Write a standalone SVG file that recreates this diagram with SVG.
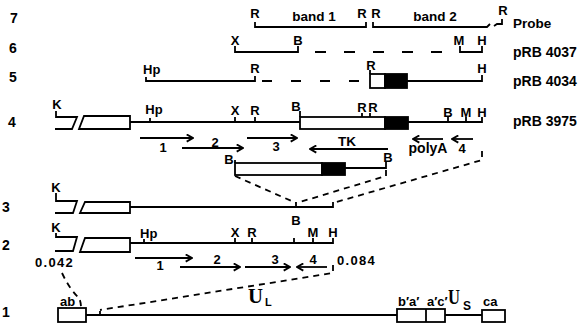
<svg xmlns="http://www.w3.org/2000/svg" width="580" height="325" viewBox="0 0 580 325">
<style>
text{font-family:"Liberation Sans",Arial,sans-serif;font-weight:bold;fill:#000}
.t{font-size:13px}
.n{font-size:14px;text-anchor:middle}
.m{text-anchor:middle}
.lab{font-size:14px}
.ln{fill:none;stroke:#000;stroke-width:1.8}
.dash{fill:none;stroke:#000;stroke-width:1.8;stroke-dasharray:6,5}
.dl{fill:none;stroke:#000;stroke-width:1.8;stroke-dasharray:11,18}
.box{fill:#fff;stroke:#000;stroke-width:1.8}
.blk{fill:#000;stroke:#000;stroke-width:1.8}
.ar{fill:none;stroke:#000;stroke-width:1.8;marker-end:url(#ah)}
.serif{font-family:"Liberation Serif","Times New Roman",serif;font-weight:bold;font-size:22px}
</style>
<defs>
<marker id="ah" viewBox="0 0 10 10" refX="9" refY="5" markerWidth="9" markerHeight="9" orient="auto" markerUnits="userSpaceOnUse">
<path d="M2,1 L9,5 L2,9" fill="none" stroke="#000" stroke-width="2"/>
</marker>
</defs>

<g id="rownums">
<text class="n" x="14" y="23">7</text>
<text class="n" x="13" y="53">6</text>
<text class="n" x="13" y="82">5</text>
<text class="n" x="12" y="127">4</text>
<text class="n" x="6" y="212">3</text>
<text class="n" x="6" y="250">2</text>
<text class="n" x="6" y="317">1</text>
</g>

<g id="row7">
<path class="ln" d="M255,22 V27 H366 V22"/>
<path class="ln" d="M373,22 V27 H487 L490,24 M494,26 L497,24 H502 V19"/>
<text class="t m" x="255" y="18">R</text>
<text class="t m" x="362" y="18">R</text>
<text class="t m" x="376" y="18">R</text>
<text class="t m" x="503" y="15">R</text>
<text class="t m" x="314" y="21" style="font-size:13.5px">band 1</text>
<text class="t m" x="435" y="21" style="font-size:13.5px">band 2</text>
<text class="t" x="513" y="28" style="font-size:13.5px">Probe</text>
</g>

<g id="row6">
<path class="ln" d="M235,46 V52 H298 V46"/>
<path class="dl" d="M315,52 H455"/>
<path class="ln" d="M460,46 V52 H482 V46"/>
<text class="t m" x="235" y="45">X</text>
<text class="t m" x="298" y="45">B</text>
<text class="t m" x="459" y="45">M</text>
<text class="t m" x="482" y="45">H</text>
<text class="lab" x="513" y="57">pRB 4037</text>
</g>

<g id="row5">
<path class="ln" d="M146,77 V81 H255 V76"/>
<path class="dl" d="M262,81 H365" style="stroke-dasharray:10,19"/>
<path class="ln" d="M370,70 V74"/>
<rect class="box" x="370" y="74" width="15" height="14"/>
<rect class="blk" x="385" y="74" width="22" height="14"/>
<path class="ln" d="M407,81 H482 V75"/>
<text class="t" x="143" y="74">Hp</text>
<text class="t m" x="255" y="73">R</text>
<text class="t m" x="371" y="70">R</text>
<text class="t m" x="482" y="73">H</text>
<text class="lab" x="513" y="86">pRB 4034</text>
</g>

<g id="row4">
<path class="ln" d="M56,111 V117 H77 L72,129 H55"/>
<path class="box" d="M79,129 L84,116 H130 V129 Z"/>
<path class="ln" d="M130,122 H300 M150,118 V122 M235,117 V122 M255,117 V122 M300,111 V117"/>
<rect class="box" x="300" y="117" width="85" height="12"/>
<rect class="blk" x="385" y="117" width="23" height="12"/>
<path class="ln" d="M362,113 V117 M370,113 V117 M408,122 H482 V117 M448,117 V122 M466,117 V122"/>
<text class="t m" x="57" y="109">K</text>
<text class="t m" x="154" y="114">Hp</text>
<text class="t m" x="235" y="115">X</text>
<text class="t m" x="255" y="115">R</text>
<text class="t m" x="296" y="111">B</text>
<text class="t m" x="362" y="112">R</text>
<text class="t m" x="373" y="112">R</text>
<text class="t m" x="448" y="117">B</text>
<text class="t m" x="466" y="117">M</text>
<text class="t m" x="482" y="117">H</text>
<text class="lab" x="513" y="126">pRB 3975</text>
</g>

<g id="row4-arrows">
<path class="ar" d="M140,138 H193"/>
<path class="ar" d="M182,148 H243"/>
<path class="ar" d="M247,138 H297"/>
<path class="ar" d="M388,149 H310"/>
<path class="ar" d="M443,139 H413"/>
<path class="ar" d="M473,139 H452"/>
<text class="t m" x="163" y="152">1</text>
<text class="t m" x="215" y="147">2</text>
<text class="t m" x="276" y="151">3</text>
<text class="t m" x="347" y="146" style="font-size:13.5px">TK</text>
<text class="t m" x="428" y="153" style="font-size:14px">polyA</text>
<text class="t m" x="462" y="153">4</text>
</g>

<g id="insert">
<path class="ln" d="M235,160 V163"/>
<rect class="box" x="235" y="163" width="87" height="12"/>
<rect class="blk" x="322" y="163" width="23" height="12"/>
<path class="ln" d="M345,168 H386 V162"/>
<text class="t m" x="229" y="164">B</text>
<text class="t m" x="388" y="162">B</text>
</g>

<g id="row3">
<path class="ln" d="M56,193 V201 H77 L73,213 H55"/>
<path class="box" d="M80,213 L85,202 H130 V213 Z"/>
<path class="ln" d="M130,207 H333 V202 M296,202 V207"/>
<text class="t m" x="56" y="192">K</text>
<text class="t m" x="296" y="225">B</text>
</g>

<g id="row2">
<path class="ln" d="M56,233 V237 H77 L73,251 H55"/>
<path class="box" d="M80,252 L85,238 H130 V252 Z"/>
<path class="ln" d="M130,243 H333 V238 M144,239 V243 M235,238 V243 M252,238 V243 M294,238 V243 M313,238 V243"/>
<text class="t m" x="56" y="232">K</text>
<text class="t" x="140" y="238">Hp</text>
<text class="t m" x="235" y="237">X</text>
<text class="t m" x="252" y="237">R</text>
<text class="t m" x="313" y="237">M</text>
<text class="t m" x="333" y="237">H</text>
<path class="ar" d="M135,258 H192"/>
<path class="ar" d="M180,267 H240"/>
<path class="ar" d="M245,267 H290"/>
<path class="ar" d="M327,267 H297"/>
<text class="t m" x="160" y="270">1</text>
<text class="t m" x="217" y="264">2</text>
<text class="t m" x="275" y="264">3</text>
<text class="t m" x="313" y="264">4</text>
<text class="t" x="35" y="267" style="letter-spacing:1.3px">0.042</text>
<text class="t" x="337" y="265" style="letter-spacing:1.3px">0.084</text>
</g>

<g id="row1">
<rect class="box" x="58" y="308" width="28" height="14"/>
<path class="ln" d="M86,315 H397 M100,311 V315"/>
<rect class="box" x="397" y="309" width="48" height="13"/>
<path class="ln" d="M426,309 V322 M445,315 H482"/>
<rect class="box" x="482" y="310" width="23" height="12"/>
<text class="t" x="60" y="306">ab</text>
<text class="t" x="398" y="306">b′a′</text>
<text class="t" x="427" y="306">a′c′</text>
<text class="t" x="483" y="306">ca</text>
<text class="serif" x="248" y="303" textLength="15" lengthAdjust="spacingAndGlyphs">U</text>
<text class="t" x="265" y="306" style="font-size:11px">L</text>
<text class="serif" x="448" y="304" textLength="12" lengthAdjust="spacingAndGlyphs">U</text>
<text class="t" x="463" y="310" style="font-size:12px">S</text>
</g>

<g id="connectors">
<path class="dash" d="M235,176 L296,203"/>
<path class="dash" d="M386,170 V176 L300,202"/>
<path class="dash" d="M482,151 V160 L333,203"/>
<path class="dash" d="M333,265 V273 L100,310"/>
<path class="dash" d="M62,273 Q70,290 79,298 Q81,302 81,308"/>
</g>
</svg>
